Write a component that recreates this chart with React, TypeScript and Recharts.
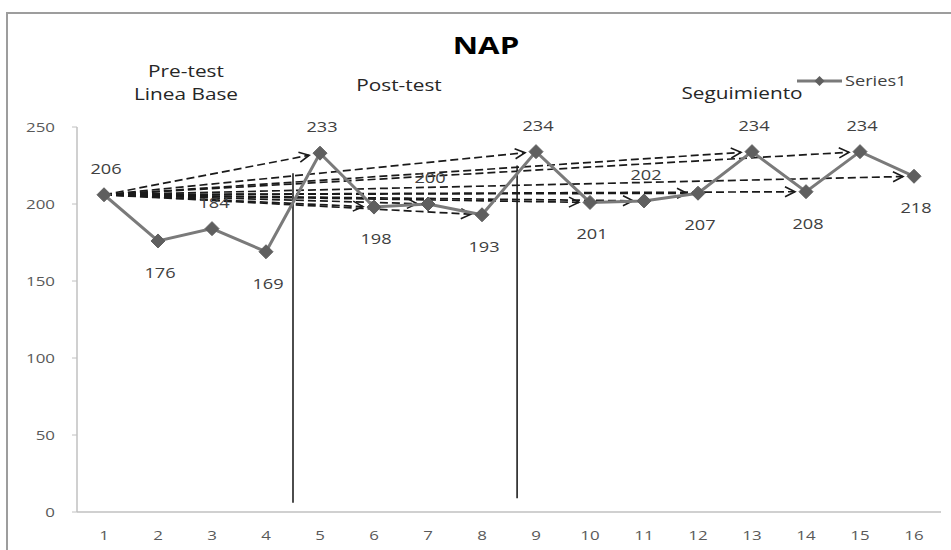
import React from "react";
import { LineChart, Line, XAxis, YAxis, ReferenceLine } from "recharts";

const sessions = [1, 2, 3, 4, 5, 6, 7, 8, 9, 10, 11, 12, 13, 14, 15, 16];
const napValues = [206, 176, 184, 169, 233, 198, 200, 193, 234, 201, 202, 207, 234, 208, 234, 218];
const yTicks = [0, 50, 100, 150, 200, 250];
const arrowTargets = [5, 6, 7, 8, 9, 10, 11, 12, 13, 14, 15, 16];
const phaseDividers = [
  { x: 4.5, yFrom: 6, yTo: 220 },
  { x: 8.65, yFrom: 9, yTo: 225 },
];
const seriesName = "Series1";
const titleText = "NAP";
const phaseLabels = [
  { lines: ["Pre-test", "Linea Base"], x: 186, y: [77, 100] },
  { lines: ["Post-test"], x: 399, y: [91] },
  { lines: ["Seguimiento"], x: 742, y: [99] },
];

const data = sessions.map((s, i) => ({ s, v: napValues[i] }));

const FONT = "'Open Sans', sans-serif";
const SX = 1.3;

function SText({ x, y, anchor = "middle", size = 14, weight = 400, fill = "#404040", children }: any) {
  return (
    <text
      transform={`translate(${x},${y}) scale(${SX},1)`}
      textAnchor={anchor}
      fontFamily={FONT}
      fontSize={size}
      fontWeight={weight}
      fill={fill}
    >
      {children}
    </text>
  );
}

const Diamond = (props: any) => {
  const { cx, cy } = props;
  if (cx == null || cy == null) return null;
  const r = 7;
  return (
    <path
      d={`M${cx},${cy - r} L${cx + r},${cy} L${cx},${cy + r} L${cx - r},${cy} Z`}
      fill="#5f5f5f"
      stroke="#5f5f5f"
      strokeWidth={1}
    />
  );
};

const renderLabel = (props: any) => {
  const { x, y, index, value } = props;
  const above = index % 2 === 0;
  return (
    <SText key={`lbl-${index}`} x={x + 2} y={above ? y - 21 : y + 37} size={14} fill="#404040">
      {value}
    </SText>
  );
};

const YTick = (props: any) => {
  const { x, y, payload } = props;
  return (
    <SText x={x} y={y + 5} anchor="end" size={13} fill="#595959">
      {payload.value}
    </SText>
  );
};

const XTick = (props: any) => {
  const { x, y, payload } = props;
  return (
    <SText x={x} y={y + 20} anchor="middle" size={13} fill="#595959">
      {payload.value}
    </SText>
  );
};

const arrowShape = (props: any) => {
  const { x1, y1, x2, y2 } = props;
  if ([x1, y1, x2, y2].some((v) => v == null || isNaN(v))) return <g />;
  const dx = x2 - x1;
  const dy = y2 - y1;
  const len = Math.sqrt(dx * dx + dy * dy);
  const ux = dx / len;
  const uy = dy / len;
  const ex = x2 - ux * 11;
  const ey = y2 - uy * 11;
  const hl = 10;
  const hw = 5;
  const bx = ex - ux * hl;
  const by = ey - uy * hl;
  const px = -uy;
  const py = ux;
  return (
    <g>
      <line x1={x1} y1={y1} x2={ex} y2={ey} stroke="#1a1a1a" strokeWidth={1.7} strokeDasharray="8 4" />
      <path
        d={`M${bx + px * hw},${by + py * hw} L${ex},${ey} L${bx - px * hw},${by - py * hw}`}
        fill="none"
        stroke="#1a1a1a"
        strokeWidth={1.6}
      />
    </g>
  );
};

export default function App() {
  return (
    <div
      style={{
        position: "absolute",
        left: 0,
        top: 0,
        width: 951,
        height: 550,
        overflow: "hidden",
        background: "#fff",
      }}
    >
      <div
        style={{
          position: "absolute",
          left: 6,
          top: 12,
          width: 980,
          height: 600,
          border: "2px solid #9d9d9d",
          boxSizing: "border-box",
        }}
      />
      <div style={{ position: "absolute", left: 0, top: 0 }}>
        <LineChart width={951} height={550} data={data} margin={{ top: 127, right: 10, bottom: 0, left: 0 }}>
          <XAxis
            dataKey="s"
            type="number"
            domain={[0.5, 16.5]}
            ticks={sessions}
            interval={0}
            tickLine={false}
            axisLine={{ stroke: "#c0c0c0", strokeWidth: 1.5 }}
            height={38}
            tick={<XTick />}
          />
          <YAxis
            type="number"
            domain={[0, 250]}
            ticks={yTicks}
            width={77}
            tickSize={5}
            tickMargin={17}
            tickLine={{ stroke: "#c0c0c0" }}
            axisLine={{ stroke: "#c0c0c0", strokeWidth: 1.5 }}
            tick={<YTick />}
          />
          {arrowTargets.map((t) => (
            <ReferenceLine
              key={`arr-${t}`}
              segment={[
                { x: sessions[0], y: napValues[0] },
                { x: t, y: napValues[t - 1] },
              ]}
              shape={arrowShape}
            />
          ))}
          {phaseDividers.map((d, i) => (
            <ReferenceLine
              key={`div-${i}`}
              segment={[
                { x: d.x, y: d.yFrom },
                { x: d.x, y: d.yTo },
              ]}
              stroke="#202020"
              strokeWidth={1.6}
            />
          ))}
          <Line
            type="linear"
            dataKey="v"
            name={seriesName}
            stroke="#7a7a7a"
            strokeWidth={3}
            dot={<Diamond />}
            activeDot={false}
            label={renderLabel}
            isAnimationActive={false}
          />
        </LineChart>
      </div>
      <svg width={951} height={130} style={{ position: "absolute", left: 0, top: 0, pointerEvents: "none" }}>
        <SText x={486} y={54} size={24} weight={700} fill="#000">
          {titleText}
        </SText>
        {phaseLabels.map((p, i) =>
          p.lines.map((l, j) => (
            <SText key={`${i}-${j}`} x={p.x} y={p.y[j]} size={16} fill="#262626">
              {l}
            </SText>
          ))
        )}
        <g transform="translate(797,69)">
          <line x1={0} y1={12} x2={45} y2={12} stroke="#7a7a7a" strokeWidth={3} />
          <path d="M22.5,7 L27.5,12 L22.5,17 L17.5,12 Z" fill="#5f5f5f" />
          <SText x={48} y={17} anchor="start" size={14} fill="#404040">
            {seriesName}
          </SText>
        </g>
      </svg>
    </div>
  );
}
